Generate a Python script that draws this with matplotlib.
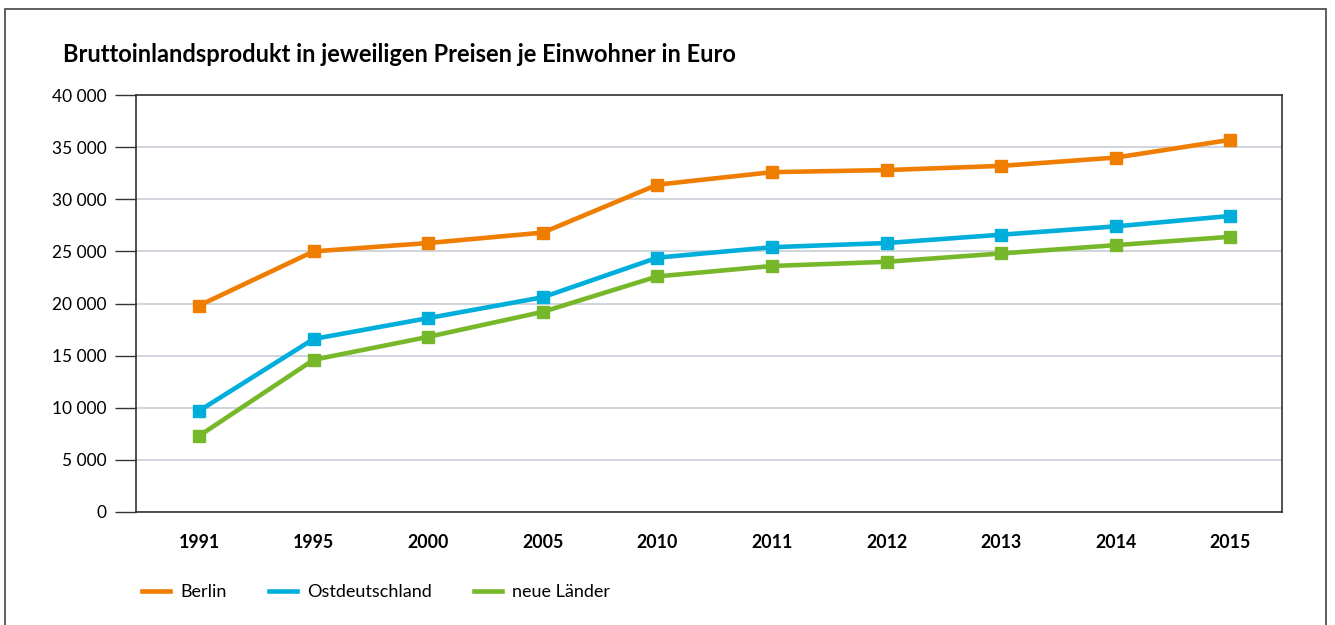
import matplotlib.pyplot as plt
from matplotlib.patches import Rectangle
from matplotlib.ticker import FuncFormatter

plt.rcParams['font.family'] = ['Lato', 'DejaVu Sans']

years = ["1991", "1995", "2000", "2005", "2010", "2011", "2012", "2013", "2014", "2015"]
berlin = [19800, 25000, 25800, 26800, 31400, 32600, 32800, 33200, 34000, 35700]
ost = [9700, 16600, 18600, 20600, 24400, 25400, 25800, 26600, 27400, 28400]
neue = [7300, 14600, 16800, 19200, 22600, 23600, 24000, 24800, 25600, 26400]

series = [
    ("Berlin", berlin, "#EF7D00"),
    ("Ostdeutschland", ost, "#00AEDB"),
    ("neue Länder", neue, "#76B82A"),
]

fig = plt.figure(figsize=(13.35, 6.25), dpi=100)
ax = fig.add_axes([136 / 1335, 1 - 512 / 625, 1146 / 1335, 417 / 625])

x = range(len(years))
for name, vals, col in series:
    ax.plot(x, vals, color=col, lw=3.3, marker="s", ms=8.5, label=name)

ax.set_xlim(-0.55, 9.45)
ax.set_ylim(0, 40000)
ax.set_yticks(range(0, 40001, 5000))
ax.yaxis.set_major_formatter(FuncFormatter(lambda v, p: f"{int(v):,}".replace(",", " ")))
ax.set_xticks(list(x))
ax.set_xticklabels(years, fontweight="bold")
ax.tick_params(axis="x", length=0, pad=16, labelsize=12.8)
ax.tick_params(axis="y", length=15, width=1, color="#333333", pad=6, labelsize=12.5)
ax.grid(axis="y", color="#C8CED6", lw=1.2)
ax.set_axisbelow(True)
for s in ax.spines.values():
    s.set_color("#333333")
    s.set_linewidth(1.2)

fig.text(63 / 1335, 1 - 55 / 625, "Bruttoinlandsprodukt in jeweiligen Preisen je Einwohner in Euro",
         fontsize=17, fontweight="bold", va="center", ha="left")

leg = fig.legend(loc="center left", bbox_to_anchor=(126 / 1335, 1 - 592 / 625), ncol=3,
                 frameon=False, fontsize=13, handlelength=1.55, columnspacing=2.35,
                 handletextpad=0.55)
for h in leg.legend_handles:
    h.set_marker("")

fig.patches.append(Rectangle((5 / 1335, -0.01), 1321 / 1335, 1 - 9 / 625 + 0.01,
                             transform=fig.transFigure, fill=False, edgecolor="#444444", lw=1.2))

fig.savefig("out.png", dpi=100)
